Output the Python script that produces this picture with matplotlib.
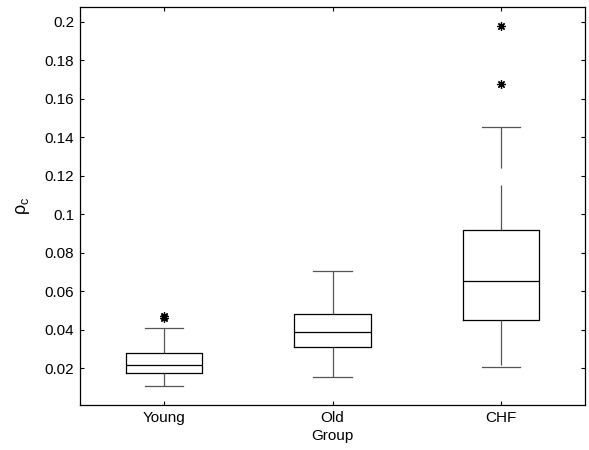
import matplotlib
matplotlib.use("Agg")
import matplotlib.pyplot as plt

plt.rcParams["font.family"] = ["Liberation Sans", "DejaVu Sans"]
plt.rcParams["lines.scale_dashes"] = False

# box statistics
groups = ["Young", "Old", "CHF"]
q1 = [0.0174, 0.0311, 0.0450]
med = [0.0218, 0.0387, 0.0652]
q3 = [0.0281, 0.0484, 0.0918]
whislo = [0.0109, 0.0153, 0.0206]
whishi = [0.0411, 0.0707, 0.1455]
fliers = [[0.0462, 0.0472], [], [0.1676, 0.1980]]

yticks = [0.02, 0.04, 0.06, 0.08, 0.1, 0.12, 0.14, 0.16, 0.18, 0.2]
ytick_labels = ["0.02", "0.04", "0.06", "0.08", "0.1", "0.12", "0.14", "0.16", "0.18", "0.2"]


def main():
    stats = []
    for i in range(len(groups)):
        stats.append({
            "label": groups[i],
            "q1": q1[i], "med": med[i], "q3": q3[i],
            "whislo": whislo[i], "whishi": whishi[i],
            "fliers": fliers[i],
        })

    fig = plt.figure(figsize=(5.89, 4.5), dpi=100)
    ax = fig.add_axes([80 / 589, 1 - 405 / 450, 505 / 589, 397.7 / 450])

    ax.bxp(
        stats, positions=[1, 2, 3], widths=0.455,
        boxprops=dict(color="black", linewidth=0.9),
        medianprops=dict(color="black", linewidth=0.9),
        whiskerprops=dict(color="#555555", linewidth=0.9, linestyle=(0, (32.4, 12.2))),
        capprops=dict(color="#555555", linewidth=0.9),
        flierprops=dict(marker=(8, 2, 0), markersize=6, markeredgecolor="black",
                        markeredgewidth=0.9, linestyle="none"),
    )

    ax.set_xlim(0.5, 3.5)
    ax.set_ylim(0.001, 0.2075)
    ax.set_yticks(yticks)
    ax.set_yticklabels(ytick_labels)
    ax.set_xticks([1, 2, 3])
    ax.set_xticklabels(groups)
    ax.tick_params(direction="in", length=3.2, width=0.8, labelsize=11,
                   top=True, right=True, pad=4)
    for s in ax.spines.values():
        s.set_linewidth(0.9)

    ax.set_xlabel("Group", fontsize=11, labelpad=3)
    ax.set_ylabel("ρ$_\\mathregular{c}$", fontsize=13, labelpad=9)

    fig.savefig("out.png", dpi=100)


if __name__ == "__main__":
    main()
